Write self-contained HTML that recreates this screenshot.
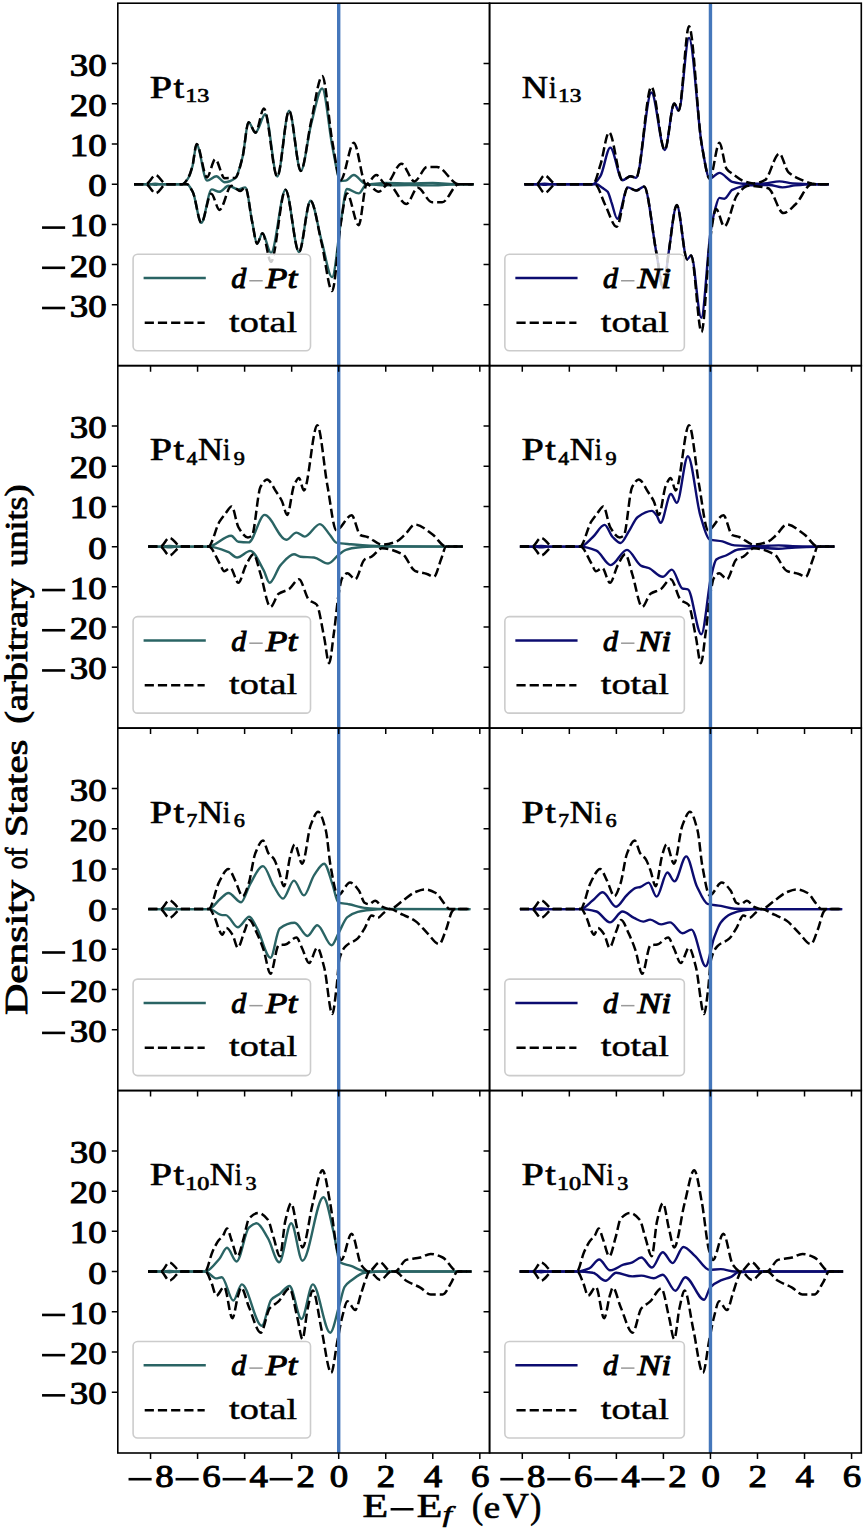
<!DOCTYPE html><html><head><meta charset="utf-8"><style>html,body{margin:0;padding:0;background:#fff;overflow:hidden;}svg{display:block;}text{font-family:"Liberation Serif",serif;stroke:#000;fill:#000;}.tk{stroke-width:1.0px;}.tx{stroke-width:0.45px;}.ti{stroke-width:0.65px;}.yl{stroke-width:0.85px;}.it{font-style:italic;stroke-width:1.0px;}</style></head><body>
<svg width="865" height="1530" viewBox="0 0 865 1530">
<clipPath id="cp00"><rect x="117.80" y="3.20" width="371.75" height="362.45"/></clipPath>
<clipPath id="cp01"><rect x="489.55" y="3.20" width="371.75" height="362.45"/></clipPath>
<clipPath id="cp10"><rect x="117.80" y="365.65" width="371.75" height="362.45"/></clipPath>
<clipPath id="cp11"><rect x="489.55" y="365.65" width="371.75" height="362.45"/></clipPath>
<clipPath id="cp20"><rect x="117.80" y="728.10" width="371.75" height="362.45"/></clipPath>
<clipPath id="cp21"><rect x="489.55" y="728.10" width="371.75" height="362.45"/></clipPath>
<clipPath id="cp30"><rect x="117.80" y="1090.55" width="371.75" height="362.45"/></clipPath>
<clipPath id="cp31"><rect x="489.55" y="1090.55" width="371.75" height="362.45"/></clipPath>
<g clip-path="url(#cp00)" fill="none"><path d="M134.1,184.2C139.6,184.2 145.1,184.2 150.5,184.2C152.1,184.2 153.7,183.6 155.2,183.6C156.8,183.6 158.4,184.2 159.9,184.2C167.4,184.2 174.8,184.2 182.3,184.2C184.3,184.2 186.2,181.2 188.2,178.2C189.6,176.0 191.0,171.6 192.4,166.5C193.8,161.5 195.2,144.8 196.6,144.8C200.1,144.8 203.5,180.6 207.0,180.6C210.1,180.6 213.3,176.2 216.4,176.2C219.1,176.2 221.9,182.2 224.6,182.2C228.2,182.2 231.7,180.7 235.2,178.2C237.6,176.5 240.1,166.6 242.5,157.3C244.5,149.4 246.6,122.3 248.6,122.3C250.9,122.3 253.2,132.7 255.4,132.7C258.7,132.7 262.0,114.3 265.3,114.3C269.3,114.3 273.3,176.6 277.3,176.6C281.2,176.6 285.2,110.6 289.1,110.6C293.0,110.6 296.9,170.9 300.8,170.9C304.3,170.9 307.7,136.9 311.2,123.9C314.9,110.0 318.6,88.5 322.2,88.5C325.7,88.5 329.1,131.6 332.6,148.0C335.3,160.7 337.9,181.0 340.6,181.0C342.3,181.0 344.0,180.8 345.8,180.6C348.4,180.2 351.1,175.0 353.8,175.0C357.8,175.0 361.9,184.2 366.0,184.2C372.6,184.2 379.2,183.0 385.7,183.0C393.6,183.0 401.4,183.4 409.3,183.4C417.1,183.4 424.9,183.0 432.8,183.0C441.4,183.0 450.0,184.2 458.7,184.2C463.7,184.2 468.7,184.2 473.7,184.2" stroke="#2a6464" stroke-width="2.4" stroke-linejoin="round"/><path d="M134.1,184.2C139.6,184.2 145.1,184.2 150.5,184.2C152.1,184.2 153.7,184.8 155.2,184.8C156.8,184.8 158.4,184.2 159.9,184.2C169.0,184.2 178.0,184.2 187.0,184.2C189.0,184.2 190.9,188.5 192.9,192.2C195.7,197.7 198.5,222.8 201.3,222.8C204.8,222.8 208.2,189.4 211.7,189.4C214.2,189.4 216.7,191.8 219.2,191.8C222.4,191.8 225.5,185.8 228.6,185.8C231.8,185.8 235.1,189.4 238.3,189.4C240.6,189.4 243.0,187.4 245.3,187.4C247.6,187.4 249.9,210.9 252.1,221.6C253.8,229.3 255.4,243.7 257.1,243.7C258.9,243.7 260.7,233.2 262.5,233.2C265.3,233.2 268.1,252.9 271.0,252.9C275.8,252.9 280.7,189.8 285.5,189.8C290.0,189.8 294.5,252.1 299.0,252.1C302.8,252.1 306.6,200.7 310.5,200.7C314.2,200.7 317.8,227.5 321.5,240.5C325.1,252.9 328.6,277.1 332.1,277.1C335.1,277.1 338.1,237.5 341.1,220.4C343.0,209.1 345.0,189.0 346.9,189.0C350.9,189.0 354.8,193.4 358.7,193.4C361.4,193.4 364.0,184.2 366.7,184.2C373.0,184.2 379.4,185.4 385.7,185.4C393.6,185.4 401.4,185.0 409.3,185.0C417.1,185.0 424.9,185.4 432.8,185.4C441.4,185.4 450.0,184.2 458.7,184.2C463.7,184.2 468.7,184.2 473.7,184.2" stroke="#2a6464" stroke-width="2.4" stroke-linejoin="round"/><path d="M134.1,184.2C138.0,184.2 141.9,184.2 145.8,184.2C149.1,184.2 152.4,175.2 155.7,175.2C159.2,175.2 162.8,184.2 166.3,184.2C171.6,184.2 177.0,184.2 182.3,184.2C184.3,184.2 186.2,180.9 188.2,177.8C189.6,175.5 191.0,171.2 192.4,166.1C193.8,161.0 195.2,144.0 196.6,144.0C200.1,144.0 203.5,177.4 207.0,177.4C209.7,177.4 212.5,159.3 215.2,159.3C218.4,159.3 221.5,178.2 224.6,178.2C228.2,178.2 231.7,178.0 235.2,177.8C237.6,177.6 240.1,166.5 242.5,157.3C244.5,149.5 246.6,122.3 248.6,122.3C250.9,122.3 253.2,132.7 255.4,132.7C258.3,132.7 261.1,108.6 263.9,108.6C268.4,108.6 272.8,176.6 277.3,176.6C281.2,176.6 285.2,110.6 289.1,110.6C293.0,110.6 296.9,170.9 300.8,170.9C304.3,170.9 307.7,136.3 311.2,121.1C314.9,104.8 318.6,76.1 322.2,76.1C325.7,76.1 329.1,124.7 332.6,143.2C335.3,157.5 337.9,180.2 340.6,180.2C345.0,180.2 349.4,142.8 353.8,142.8C357.8,142.8 361.9,184.2 366.0,184.2C369.4,184.2 372.9,175.0 376.3,175.0C379.5,175.0 382.6,184.2 385.7,184.2C391.0,184.2 396.2,163.7 401.5,163.7C405.8,163.7 410.1,181.4 414.4,181.4C418.7,181.4 422.9,166.9 427.1,166.9C430.4,166.9 433.7,166.9 437.0,166.9C444.2,166.9 451.4,184.2 458.7,184.2C463.7,184.2 468.7,184.2 473.7,184.2" stroke="#000" stroke-width="2.5" stroke-dasharray="9.2 4"/><path d="M134.1,184.2C138.0,184.2 141.9,184.2 145.8,184.2C149.1,184.2 152.4,193.2 155.7,193.2C159.2,193.2 162.8,184.2 166.3,184.2C173.2,184.2 180.1,184.2 187.0,184.2C189.0,184.2 190.9,188.5 192.9,192.2C195.7,197.7 198.5,222.8 201.3,222.8C204.6,222.8 207.9,193.8 211.2,193.8C214.0,193.8 216.7,209.9 219.5,209.9C223.5,209.9 227.5,185.8 231.4,185.8C234.4,185.8 237.4,191.0 240.4,191.0C242.0,191.0 243.7,187.4 245.3,187.4C247.6,187.4 249.9,210.9 252.1,221.6C253.8,229.3 255.4,243.7 257.1,243.7C258.9,243.7 260.7,233.2 262.5,233.2C265.3,233.2 268.1,261.8 271.0,261.8C275.8,261.8 280.7,189.8 285.5,189.8C290.0,189.8 294.5,252.1 299.0,252.1C302.8,252.1 306.6,200.7 310.5,200.7C314.2,200.7 317.8,227.2 321.5,242.5C325.1,257.1 328.6,291.1 332.1,291.1C335.1,291.1 338.1,239.0 341.1,221.6C343.0,210.2 345.0,193.4 346.9,193.4C350.9,193.4 354.8,225.2 358.7,225.2C361.4,225.2 364.0,184.2 366.7,184.2C370.7,184.2 374.7,191.8 378.7,191.8C381.8,191.8 385.0,184.2 388.1,184.2C394.2,184.2 400.3,203.9 406.4,203.9C410.2,203.9 414.0,187.8 417.7,187.8C422.5,187.8 427.3,202.3 432.1,202.3C435.4,202.3 438.8,202.3 442.2,202.3C447.7,202.3 453.2,184.2 458.7,184.2C463.7,184.2 468.7,184.2 473.7,184.2" stroke="#000" stroke-width="2.5" stroke-dasharray="9.2 4"/></g>
<g clip-path="url(#cp01)" fill="none"><path d="M524.4,184.2C529.2,184.2 534.0,184.2 538.8,184.2C540.7,184.2 542.7,183.6 544.6,183.6C546.6,183.6 548.6,184.2 550.5,184.2C564.6,184.2 578.7,184.2 592.9,184.2C595.4,184.2 597.9,180.0 600.4,176.2C603.7,171.1 607.0,147.6 610.3,147.6C614.3,147.6 618.4,180.2 622.5,180.2C625.2,180.2 627.8,176.2 630.5,176.2C632.4,176.2 634.2,177.8 636.1,177.8C641.2,177.8 646.3,92.5 651.4,92.5C655.9,92.5 660.4,150.0 664.8,150.0C668.0,150.0 671.1,103.4 674.2,103.4C675.7,103.4 677.2,110.6 678.7,110.6C682.1,110.6 685.6,37.9 689.0,37.9C693.3,37.9 697.5,121.0 701.7,144.4C704.4,159.1 707.1,178.6 709.7,178.6C713.0,178.6 716.2,172.9 719.4,172.9C723.7,172.9 728.0,180.7 732.3,181.8C736.8,182.9 741.3,183.8 745.7,183.8C752.0,183.8 758.3,183.6 764.5,183.4C769.5,183.2 774.4,181.4 779.4,181.4C783.8,181.4 788.3,183.1 792.8,183.4C799.0,183.8 805.3,184.2 811.6,184.2C817.3,184.2 823.0,184.2 828.8,184.2" stroke="#0c0c70" stroke-width="2.4" stroke-linejoin="round"/><path d="M524.4,184.2C529.2,184.2 534.0,184.2 538.8,184.2C540.7,184.2 542.7,184.8 544.6,184.8C546.6,184.8 548.6,184.2 550.5,184.2C565.8,184.2 581.1,184.2 596.4,184.2C598.3,184.2 600.3,186.5 602.3,187.8C604.1,189.0 605.9,189.7 607.7,191.8C608.9,193.4 610.2,198.6 611.4,202.1C613.4,207.5 615.4,218.8 617.3,218.8C620.8,218.8 624.4,187.4 627.9,187.4C630.6,187.4 633.4,190.6 636.1,190.6C638.8,190.6 641.5,186.6 644.1,186.6C648.2,186.6 652.3,231.6 656.4,252.9C658.7,265.2 661.1,288.7 663.4,288.7C665.1,288.7 666.9,263.9 668.6,252.9C671.3,235.5 674.1,205.1 676.8,205.1C680.3,205.1 683.7,259.4 687.2,259.4C688.5,259.4 689.8,255.4 691.2,255.4C694.5,255.4 697.9,317.7 701.3,317.7C704.3,317.7 707.4,252.0 710.5,232.4C711.9,223.4 713.3,215.8 714.7,210.7C716.3,205.1 717.8,197.9 719.4,197.9C721.0,197.9 722.7,198.7 724.3,198.7C727.0,198.7 729.7,191.1 732.3,189.8C737.7,187.3 743.1,185.6 748.6,185.4C755.5,185.1 762.4,185.0 769.2,185.0C773.6,185.0 778.0,187.4 782.4,187.4C786.7,187.4 790.9,185.8 795.1,185.4C800.7,184.8 806.3,184.2 811.8,184.2C817.5,184.2 823.1,184.2 828.8,184.2" stroke="#0c0c70" stroke-width="2.4" stroke-linejoin="round"/><path d="M524.4,184.2C528.4,184.2 532.4,184.2 536.4,184.2C539.1,184.2 541.9,175.4 544.6,175.4C548.4,175.4 552.2,184.2 555.9,184.2C568.2,184.2 580.5,184.2 592.9,184.2C595.4,184.2 597.9,172.5 600.4,164.9C603.3,156.1 606.2,132.3 609.1,132.3C613.5,132.3 618.0,180.2 622.5,180.2C625.2,180.2 627.8,176.2 630.5,176.2C632.4,176.2 634.2,177.8 636.1,177.8C641.2,177.8 646.3,86.9 651.4,86.9C655.9,86.9 660.4,150.0 664.8,150.0C668.0,150.0 671.1,103.4 674.2,103.4C675.7,103.4 677.2,110.6 678.7,110.6C682.1,110.6 685.6,26.2 689.0,26.2C693.3,26.2 697.5,120.3 701.7,144.4C704.4,159.6 707.1,178.6 709.7,178.6C713.0,178.6 716.2,142.8 719.4,142.8C721.8,142.8 724.2,165.7 726.7,168.9C728.6,171.5 730.4,172.4 732.3,173.7C736.6,176.9 740.9,180.6 745.3,181.8C748.0,182.6 750.7,183.4 753.5,183.4C757.3,183.4 761.0,182.0 764.8,180.2C769.6,177.9 774.5,153.6 779.4,153.6C782.3,153.6 785.3,169.2 788.3,172.1C791.2,175.0 794.1,176.3 797.0,177.8C801.9,180.2 806.9,182.3 811.8,183.4C813.3,183.7 814.8,184.2 816.3,184.2C820.4,184.2 824.6,184.2 828.8,184.2" stroke="#000" stroke-width="2.5" stroke-dasharray="9.2 4"/><path d="M524.4,184.2C528.4,184.2 532.4,184.2 536.4,184.2C539.1,184.2 541.9,193.0 544.6,193.0C548.4,193.0 552.2,184.2 555.9,184.2C568.9,184.2 581.8,184.2 594.7,184.2C598.3,184.2 601.8,198.2 605.3,205.1C609.1,212.4 612.8,226.8 616.6,226.8C620.4,226.8 624.1,187.4 627.9,187.4C630.6,187.4 633.4,190.6 636.1,190.6C638.8,190.6 641.5,186.6 644.1,186.6C648.2,186.6 652.3,231.6 656.4,252.9C658.7,265.2 661.1,288.7 663.4,288.7C665.1,288.7 666.9,263.9 668.6,252.9C671.3,235.5 674.1,205.1 676.8,205.1C680.3,205.1 683.7,259.4 687.2,259.4C688.5,259.4 689.8,255.4 691.2,255.4C694.6,255.4 698.1,332.1 701.5,332.1C704.5,332.1 707.5,255.8 710.5,236.5C712.3,224.3 714.2,209.1 716.1,209.1C718.8,209.1 721.6,226.4 724.3,226.4C728.6,226.4 733.0,199.7 737.3,194.7C741.0,190.2 744.8,185.8 748.6,185.8C755.1,185.8 761.6,186.7 768.1,188.2C773.2,189.4 778.3,213.1 783.4,213.1C787.4,213.1 791.5,208.0 795.6,204.3C801.0,199.4 806.4,184.2 811.8,184.2C817.5,184.2 823.1,184.2 828.8,184.2" stroke="#000" stroke-width="2.5" stroke-dasharray="9.2 4"/></g>
<g clip-path="url(#cp10)" fill="none"><path d="M148.2,546.6C152.9,546.6 157.6,546.6 162.3,546.6C164.7,546.6 167.0,546.0 169.4,546.0C171.7,546.0 174.1,546.6 176.4,546.6C187.0,546.6 197.6,546.6 208.2,546.6C215.8,546.6 223.5,535.8 231.2,535.8C233.6,535.8 235.9,541.6 238.3,541.8C241.7,542.2 245.2,542.4 248.6,542.4C253.9,542.4 259.3,514.9 264.6,514.9C271.8,514.9 279.0,539.8 286.3,539.8C289.6,539.8 293.0,532.6 296.4,532.6C299.2,532.6 302.0,536.6 304.8,536.6C309.8,536.6 314.9,524.1 319.9,524.1C323.3,524.1 326.6,531.2 330.0,535.0C332.1,537.4 334.2,542.2 336.3,542.6C341.2,543.7 346.1,543.8 350.9,544.2C361.0,545.1 371.0,546.1 381.0,546.2C408.2,546.5 435.4,546.6 462.7,546.6" stroke="#2a6464" stroke-width="2.4" stroke-linejoin="round"/><path d="M148.2,546.6C152.9,546.6 157.6,546.6 162.3,546.6C164.7,546.6 167.0,547.3 169.4,547.3C171.7,547.3 174.1,546.6 176.4,546.6C187.2,546.6 197.9,546.6 208.6,546.6C215.1,546.6 221.6,549.3 228.2,551.9C231.1,553.1 234.1,557.5 237.1,557.5C241.5,557.5 245.9,550.9 250.3,550.9C254.7,550.9 259.2,562.5 263.7,570.4C265.6,573.8 267.6,582.8 269.6,582.8C273.2,582.8 276.9,569.1 280.6,565.1C285.1,560.3 289.5,554.3 294.0,554.3C296.2,554.3 298.4,556.5 300.6,556.7C305.1,557.2 309.5,557.0 314.0,557.5C318.7,558.0 323.4,563.5 328.1,563.5C331.6,563.5 335.2,557.3 338.7,554.7C341.1,552.9 343.4,550.6 345.8,549.9C349.7,548.6 353.6,547.8 357.5,547.5C363.0,547.0 368.5,546.6 374.0,546.6C403.5,546.6 433.1,546.6 462.7,546.6" stroke="#2a6464" stroke-width="2.4" stroke-linejoin="round"/><path d="M148.2,546.6C152.3,546.6 156.3,546.6 160.4,546.6C163.4,546.6 166.4,537.8 169.4,537.8C173.3,537.8 177.2,546.6 181.1,546.6C190.1,546.6 199.1,546.6 208.2,546.6C211.9,546.6 215.7,527.9 219.5,521.7C221.3,518.7 223.2,516.4 225.1,514.1C227.3,511.3 229.5,506.4 231.7,506.4C234.0,506.4 236.2,523.7 238.5,527.4C241.6,532.5 244.8,537.4 247.9,537.4C249.2,537.4 250.6,536.7 251.9,535.8C254.7,533.9 257.6,492.5 260.4,487.2C262.6,483.0 264.8,479.5 267.0,479.5C270.1,479.5 273.2,487.3 276.4,492.0C278.3,494.8 280.1,497.4 282.0,501.2C283.7,504.7 285.5,514.9 287.2,514.9C289.5,514.9 291.7,490.6 294.0,485.5C295.7,481.9 297.3,477.9 299.0,477.9C300.6,477.9 302.2,490.4 303.9,490.4C308.4,490.4 312.8,425.2 317.3,425.2C320.7,425.2 324.0,467.3 327.4,485.5C330.4,501.7 333.4,530.2 336.3,530.2C341.4,530.2 346.5,515.3 351.6,515.3C354.5,515.3 357.4,533.6 360.3,535.0C362.7,536.2 365.0,536.2 367.4,537.0C372.3,538.7 377.1,544.6 382.0,544.6C386.6,544.6 391.2,543.4 395.9,541.8C398.8,540.8 401.7,537.5 404.6,535.0C408.0,532.0 411.5,524.5 414.9,524.5C420.7,524.5 426.5,530.2 432.3,534.2C436.9,537.4 441.6,546.6 446.2,546.6C451.7,546.6 457.2,546.6 462.7,546.6" stroke="#000" stroke-width="2.5" stroke-dasharray="9.2 4"/><path d="M148.2,546.6C152.3,546.6 156.3,546.6 160.4,546.6C163.4,546.6 166.4,555.5 169.4,555.5C173.3,555.5 177.2,546.6 181.1,546.6C190.3,546.6 199.5,546.6 208.6,546.6C212.4,546.6 216.2,557.8 219.9,563.9C221.3,566.2 222.7,571.2 224.2,571.2C226.3,571.2 228.4,568.0 230.5,568.0C233.1,568.0 235.7,582.8 238.3,582.8C240.9,582.8 243.4,569.7 246.0,565.1C248.5,560.7 251.0,554.3 253.6,554.3C255.8,554.3 258.1,566.7 260.4,573.6C263.7,583.8 267.1,606.9 270.5,606.9C273.2,606.9 276.0,595.6 278.7,593.7C282.1,591.3 285.5,591.3 288.8,589.3C292.2,587.2 295.6,579.2 299.0,579.2C302.3,579.2 305.7,597.1 309.1,600.1C311.6,602.4 314.1,601.9 316.6,604.5C319.1,607.1 321.6,625.1 324.1,637.1C325.8,645.0 327.4,663.2 329.1,663.2C330.7,663.2 332.3,643.9 334.0,632.3C335.7,620.1 337.4,599.8 339.2,590.5C340.1,585.4 341.1,580.0 342.0,578.4C343.8,575.4 345.6,573.2 347.4,573.2C350.0,573.2 352.6,579.2 355.2,579.2C358.3,579.2 361.4,561.5 364.6,559.5C366.9,558.0 369.3,557.9 371.6,556.7C375.1,554.9 378.5,548.3 382.0,548.3C388.9,548.3 395.8,550.8 402.7,554.3C406.8,556.4 410.8,569.0 414.9,570.8C419.0,572.6 423.1,572.6 427.1,574.0C429.4,574.7 431.7,576.8 434.0,576.8C436.3,576.8 438.7,565.3 441.0,559.5C442.7,555.3 444.5,546.6 446.2,546.6C451.7,546.6 457.2,546.6 462.7,546.6" stroke="#000" stroke-width="2.5" stroke-dasharray="9.2 4"/></g>
<g clip-path="url(#cp11)" fill="none"><path d="M519.9,546.6C524.6,546.6 529.3,546.6 534.1,546.6C536.4,546.6 538.8,546.0 541.1,546.0C543.5,546.0 545.8,546.6 548.2,546.6C558.9,546.6 569.6,546.6 580.4,546.6C584.5,546.6 588.7,540.7 592.9,537.0C596.8,533.5 600.7,524.9 604.6,524.9C607.3,524.9 609.9,534.3 612.6,537.0C615.3,539.7 617.9,543.0 620.6,543.0C623.3,543.0 626.1,535.5 628.8,531.4C631.8,526.9 634.8,519.0 637.8,516.9C642.5,513.6 647.2,510.9 651.9,510.9C653.5,510.9 655.0,513.3 656.6,515.3C657.9,517.0 659.3,522.9 660.6,522.9C664.0,522.9 667.5,494.0 670.9,494.0C672.9,494.0 674.9,502.8 676.8,502.8C680.5,502.8 684.2,456.2 687.9,456.2C692.0,456.2 696.2,501.4 700.3,515.3C703.4,525.5 706.5,538.5 709.5,539.4C713.8,540.7 718.1,540.5 722.4,541.4C726.5,542.3 730.6,545.2 734.7,545.4C742.3,546.0 749.9,546.2 757.5,546.2C764.5,546.2 771.6,545.4 778.7,545.4C783.4,545.4 788.1,546.2 792.8,546.2C806.6,546.5 820.5,546.6 834.4,546.6" stroke="#0c0c70" stroke-width="2.4" stroke-linejoin="round"/><path d="M519.9,546.6C524.6,546.6 529.3,546.6 534.1,546.6C536.4,546.6 538.8,547.3 541.1,547.3C543.5,547.3 545.8,546.6 548.2,546.6C558.9,546.6 569.6,546.6 580.4,546.6C585.7,546.6 591.0,548.5 596.4,550.7C601.2,552.6 605.9,565.1 610.7,565.1C616.1,565.1 621.5,549.9 627.0,549.9C631.7,549.9 636.5,564.0 641.3,565.9C643.7,567.0 646.2,567.1 648.6,568.0C653.3,569.7 658.0,576.8 662.7,576.8C665.8,576.8 668.8,569.6 671.9,569.6C675.4,569.6 678.9,587.6 682.5,588.5C684.3,588.9 686.1,588.8 687.9,589.3C692.3,590.4 696.8,634.3 701.3,634.3C704.6,634.3 707.9,589.2 711.2,576.0C712.9,569.1 714.6,560.9 716.3,559.5C719.5,556.9 722.8,556.9 726.0,555.5C730.1,553.7 734.1,550.1 738.2,549.5C744.6,548.5 751.1,547.9 757.5,547.9C764.5,547.9 771.6,548.7 778.7,548.7C784.1,548.7 789.6,547.6 795.1,547.5C808.2,547.0 821.3,546.6 834.4,546.6" stroke="#0c0c70" stroke-width="2.4" stroke-linejoin="round"/><path d="M519.9,546.6C524.0,546.6 528.1,546.6 532.2,546.6C535.1,546.6 538.1,537.8 541.1,537.8C545.0,537.8 548.9,546.6 552.9,546.6C561.9,546.6 570.9,546.6 579.9,546.6C583.7,546.6 587.4,527.9 591.2,521.7C593.1,518.7 595.0,516.4 596.8,514.1C599.0,511.3 601.2,506.4 603.4,506.4C605.7,506.4 608.0,523.7 610.3,527.4C613.4,532.5 616.5,537.4 619.7,537.4C621.0,537.4 622.3,536.7 623.7,535.8C626.5,533.9 629.3,492.5 632.1,487.2C634.3,483.0 636.5,479.5 638.7,479.5C641.9,479.5 645.0,487.3 648.1,492.0C650.0,494.8 651.9,497.4 653.8,501.2C655.5,504.7 657.2,514.9 658.9,514.9C661.2,514.9 663.5,490.6 665.8,485.5C667.4,481.9 669.1,477.9 670.7,477.9C672.3,477.9 674.0,490.4 675.6,490.4C680.1,490.4 684.6,425.2 689.0,425.2C692.4,425.2 695.8,467.3 699.2,485.5C702.1,501.7 705.1,530.2 708.1,530.2C713.2,530.2 718.3,515.3 723.4,515.3C726.3,515.3 729.2,533.6 732.1,535.0C734.4,536.2 736.8,536.2 739.1,537.0C744.0,538.7 748.9,544.6 753.7,544.6C758.4,544.6 763.0,543.4 767.6,541.8C770.5,540.8 773.4,537.5 776.3,535.0C779.8,532.0 783.2,524.5 786.7,524.5C792.5,524.5 798.3,530.2 804.1,534.2C808.7,537.4 813.3,546.6 817.9,546.6C823.4,546.6 828.9,546.6 834.4,546.6" stroke="#000" stroke-width="2.5" stroke-dasharray="9.2 4"/><path d="M519.9,546.6C524.0,546.6 528.1,546.6 532.2,546.6C535.1,546.6 538.1,555.5 541.1,555.5C545.0,555.5 548.9,546.6 552.9,546.6C562.0,546.6 571.2,546.6 580.4,546.6C584.1,546.6 587.9,557.8 591.7,563.9C593.1,566.2 594.5,571.2 595.9,571.2C598.0,571.2 600.1,568.0 602.3,568.0C604.8,568.0 607.4,582.8 610.0,582.8C612.6,582.8 615.2,569.7 617.8,565.1C620.3,560.7 622.8,554.3 625.3,554.3C627.6,554.3 629.9,566.7 632.1,573.6C635.5,583.8 638.9,606.9 642.2,606.9C645.0,606.9 647.7,595.6 650.5,593.7C653.8,591.3 657.2,591.3 660.6,589.3C664.0,587.2 667.3,579.2 670.7,579.2C674.1,579.2 677.4,597.1 680.8,600.1C683.3,602.4 685.8,601.9 688.3,604.5C690.9,607.1 693.4,625.1 695.9,637.1C697.5,645.0 699.2,663.2 700.8,663.2C702.5,663.2 704.1,643.9 705.7,632.3C707.5,620.1 709.2,599.8 710.9,590.5C711.9,585.4 712.8,580.0 713.7,578.4C715.5,575.4 717.3,573.2 719.2,573.2C721.7,573.2 724.3,579.2 726.9,579.2C730.1,579.2 733.2,561.5 736.3,559.5C738.7,558.0 741.0,557.9 743.4,556.7C746.8,554.9 750.3,548.3 753.7,548.3C760.6,548.3 767.5,550.8 774.4,554.3C778.5,556.4 782.6,569.0 786.7,570.8C790.7,572.6 794.8,572.6 798.9,574.0C801.2,574.7 803.4,576.8 805.7,576.8C808.1,576.8 810.4,565.3 812.8,559.5C814.5,555.3 816.2,546.6 817.9,546.6C823.4,546.6 828.9,546.6 834.4,546.6" stroke="#000" stroke-width="2.5" stroke-dasharray="9.2 4"/></g>
<g clip-path="url(#cp20)" fill="none"><path d="M148.2,909.1C152.9,909.1 157.6,909.1 162.3,909.1C164.7,909.1 167.0,908.5 169.4,908.5C171.7,908.5 174.1,909.1 176.4,909.1C187.2,909.1 197.9,909.1 208.6,909.1C212.5,909.1 216.3,902.1 220.2,899.0C222.9,896.9 225.6,893.0 228.4,893.0C232.6,893.0 236.9,902.3 241.1,902.3C244.1,902.3 247.2,888.9 250.3,883.8C254.5,876.7 258.7,866.1 263.0,866.1C266.6,866.1 270.2,880.5 273.8,886.2C276.8,891.0 279.9,898.6 283.0,898.6C286.6,898.6 290.3,880.6 294.0,880.6C297.3,880.6 300.6,895.4 303.9,895.4C307.3,895.4 310.6,880.3 314.0,875.3C317.4,870.4 320.7,863.7 324.1,863.7C326.9,863.7 329.6,876.2 332.3,883.8C334.3,889.2 336.3,901.5 338.2,902.3C341.8,903.7 345.4,903.5 349.0,904.3C354.2,905.3 359.4,907.4 364.6,907.9C370.1,908.4 375.5,908.9 381.0,908.9C410.8,909.1 440.6,909.1 470.4,909.1" stroke="#2a6464" stroke-width="2.4" stroke-linejoin="round"/><path d="M148.2,909.1C152.9,909.1 157.6,909.1 162.3,909.1C164.7,909.1 167.0,909.7 169.4,909.7C171.7,909.7 174.1,909.1 176.4,909.1C187.4,909.1 198.4,909.1 209.3,909.1C213.7,909.1 218.0,915.1 222.3,915.1C223.5,915.1 224.6,915.1 225.8,915.1C229.8,915.1 233.8,927.2 237.8,927.2C241.6,927.2 245.5,916.7 249.3,916.7C251.9,916.7 254.5,923.9 257.1,928.4C261.6,936.2 266.0,957.7 270.5,957.7C273.5,957.7 276.6,930.6 279.7,928.4C284.7,924.8 289.7,922.8 294.7,922.8C299.0,922.8 303.2,936.0 307.4,936.0C310.7,936.0 314.0,925.2 317.3,925.2C322.1,925.2 326.9,945.3 331.6,945.3C334.0,945.3 336.3,937.0 338.7,932.8C341.6,927.6 344.5,919.5 347.4,917.1C350.9,914.4 354.3,912.8 357.8,911.9C360.7,911.1 363.6,910.6 366.5,910.3C372.9,909.7 379.3,909.1 385.7,909.1C414.0,909.1 442.2,909.1 470.4,909.1" stroke="#2a6464" stroke-width="2.4" stroke-linejoin="round"/><path d="M148.2,909.1C152.3,909.1 156.3,909.1 160.4,909.1C163.4,909.1 166.4,900.3 169.4,900.3C173.3,900.3 177.2,909.1 181.1,909.1C190.3,909.1 199.5,909.1 208.6,909.1C212.2,909.1 215.7,888.1 219.2,881.8C222.3,876.2 225.3,868.9 228.4,868.9C230.7,868.9 232.9,876.3 235.2,880.6C237.7,885.3 240.2,896.2 242.7,896.2C244.7,896.2 246.7,889.4 248.6,883.8C250.8,877.5 253.0,859.2 255.2,853.6C257.8,847.1 260.4,840.4 263.0,840.4C264.8,840.4 266.7,851.0 268.6,853.6C270.3,856.0 272.1,856.4 273.8,858.8C275.4,861.2 277.1,866.1 278.7,870.5C280.4,875.1 282.2,886.2 283.9,886.2C286.1,886.2 288.3,862.4 290.5,855.2C291.9,850.6 293.3,844.4 294.7,844.4C297.2,844.4 299.7,863.7 302.2,863.7C305.1,863.7 307.9,832.2 310.7,825.1C313.2,818.8 315.7,811.8 318.2,811.8C320.7,811.8 323.3,820.7 325.8,830.3C327.4,836.6 329.1,858.3 330.7,866.9C333.1,879.6 335.6,895.4 338.0,895.4C342.0,895.4 346.0,882.6 350.0,882.6C352.9,882.6 355.8,886.5 358.7,890.2C360.7,892.7 362.6,901.5 364.6,902.7C366.1,903.6 367.6,904.3 369.0,904.3C371.1,904.3 373.1,900.7 375.2,900.7C377.4,900.7 379.7,905.6 382.0,906.7C384.6,907.9 387.2,909.1 389.7,909.1C394.1,909.1 398.4,903.6 402.7,900.7C406.8,897.9 410.8,893.9 414.9,892.2C418.1,890.9 421.3,889.4 424.5,889.4C428.3,889.4 432.1,891.0 435.8,893.0C438.7,894.5 441.5,900.3 444.3,903.5C446.1,905.5 447.9,909.1 449.7,909.1C456.6,909.1 463.5,909.1 470.4,909.1" stroke="#000" stroke-width="2.5" stroke-dasharray="9.2 4"/><path d="M148.2,909.1C152.3,909.1 156.3,909.1 160.4,909.1C163.4,909.1 166.4,917.9 169.4,917.9C173.3,917.9 177.2,909.1 181.1,909.1C190.5,909.1 199.9,909.1 209.3,909.1C211.1,909.1 212.9,913.9 214.7,917.5C216.2,920.5 217.7,927.1 219.2,930.0C220.2,932.0 221.3,934.8 222.3,934.8C223.6,934.8 224.9,928.0 226.3,928.0C228.4,928.0 230.5,931.6 232.6,934.8C234.3,937.5 236.1,947.7 237.8,947.7C240.0,947.7 242.2,936.9 244.4,931.6C246.0,927.7 247.7,920.0 249.3,920.0C251.9,920.0 254.5,928.2 257.1,933.6C259.3,938.2 261.5,943.7 263.7,950.1C265.9,956.7 268.2,973.8 270.5,973.8C273.2,973.8 276.0,945.9 278.7,945.3C281.0,944.8 283.3,944.9 285.5,944.5C289.2,943.8 292.8,937.6 296.4,937.6C298.3,937.6 300.3,944.6 302.2,948.5C304.5,953.0 306.8,963.0 309.1,963.0C311.8,963.0 314.6,947.7 317.3,947.7C319.6,947.7 321.8,958.5 324.1,967.0C326.9,977.3 329.6,1014.0 332.3,1014.0C333.7,1014.0 335.0,999.7 336.3,989.5C337.4,981.7 338.4,962.7 339.4,958.9C341.5,951.2 343.6,948.3 345.8,946.1C349.8,942.0 353.8,942.1 357.8,938.4C360.0,936.3 362.3,932.1 364.6,928.4C366.9,924.6 369.3,915.5 371.6,915.5C373.7,915.5 375.7,917.9 377.7,917.9C379.8,917.9 381.8,914.2 383.9,912.7C385.8,911.3 387.8,909.1 389.7,909.1C394.1,909.1 398.4,912.7 402.7,914.7C406.8,916.6 410.8,918.1 414.9,920.8C419.0,923.4 423.1,928.9 427.1,932.8C431.1,936.7 435.1,944.1 439.1,944.1C441.5,944.1 443.8,935.0 446.2,929.2C448.2,924.2 450.3,913.3 452.3,911.1C453.2,910.1 454.2,909.1 455.1,909.1C460.2,909.1 465.3,909.1 470.4,909.1" stroke="#000" stroke-width="2.5" stroke-dasharray="9.2 4"/></g>
<g clip-path="url(#cp21)" fill="none"><path d="M519.9,909.1C524.6,909.1 529.3,909.1 534.1,909.1C536.4,909.1 538.8,908.5 541.1,908.5C543.5,908.5 545.8,909.1 548.2,909.1C558.9,909.1 569.6,909.1 580.4,909.1C584.5,909.1 588.7,903.4 592.9,900.3C596.1,897.8 599.4,892.2 602.7,892.2C607.2,892.2 611.7,906.7 616.1,906.7C619.7,906.7 623.3,898.3 627.0,895.0C629.9,892.3 632.9,888.6 635.9,887.8C637.4,887.4 638.9,887.4 640.4,887.0C643.1,886.3 645.8,882.6 648.6,882.6C651.3,882.6 653.9,896.6 656.6,896.6C660.2,896.6 663.8,872.5 667.4,872.5C669.8,872.5 672.1,881.4 674.5,881.4C678.4,881.4 682.3,856.4 686.2,856.4C689.8,856.4 693.3,878.9 696.8,886.2C700.4,893.6 704.0,902.8 707.6,903.9C712.0,905.1 716.4,905.1 720.8,905.9C725.4,906.7 730.1,908.5 734.7,908.7C742.3,909.0 749.9,909.1 757.5,909.1C785.7,909.1 813.9,909.1 842.2,909.1" stroke="#0c0c70" stroke-width="2.4" stroke-linejoin="round"/><path d="M519.9,909.1C524.6,909.1 529.3,909.1 534.1,909.1C536.4,909.1 538.8,909.7 541.1,909.7C543.5,909.7 545.8,909.1 548.2,909.1C559.1,909.1 570.1,909.1 581.1,909.1C586.2,909.1 591.3,910.2 596.4,911.5C600.9,912.7 605.5,922.4 610.0,922.4C614.2,922.4 618.3,911.5 622.5,911.5C626.3,911.5 630.2,916.2 634.0,917.9C637.1,919.3 640.1,921.6 643.2,921.6C645.5,921.6 647.9,919.6 650.2,919.6C653.8,919.6 657.5,924.4 661.1,924.4C664.0,924.4 667.0,922.4 670.0,922.4C674.2,922.4 678.3,933.2 682.5,933.2C685.4,933.2 688.4,929.6 691.4,929.6C696.2,929.6 701.0,966.2 705.7,966.2C708.5,966.2 711.2,945.5 714.0,938.0C716.3,931.8 718.5,925.2 720.8,922.4C724.2,918.1 727.7,915.4 731.1,913.9C735.2,912.1 739.3,910.9 743.4,910.3C748.1,909.7 752.8,909.1 757.5,909.1C785.7,909.1 813.9,909.1 842.2,909.1" stroke="#0c0c70" stroke-width="2.4" stroke-linejoin="round"/><path d="M519.9,909.1C524.0,909.1 528.1,909.1 532.2,909.1C535.1,909.1 538.1,900.3 541.1,900.3C545.0,900.3 548.9,909.1 552.9,909.1C562.0,909.1 571.2,909.1 580.4,909.1C583.9,909.1 587.4,888.1 591.0,881.8C594.0,876.2 597.1,868.9 600.1,868.9C602.4,868.9 604.7,876.3 607.0,880.6C609.5,885.3 612.0,896.2 614.5,896.2C616.4,896.2 618.4,889.4 620.4,883.8C622.6,877.5 624.8,859.2 627.0,853.6C629.5,847.1 632.1,840.4 634.7,840.4C636.6,840.4 638.5,851.0 640.4,853.6C642.1,856.0 643.8,856.4 645.5,858.8C647.2,861.2 648.8,866.1 650.5,870.5C652.2,875.1 653.9,886.2 655.6,886.2C657.8,886.2 660.0,862.4 662.2,855.2C663.6,850.6 665.1,844.4 666.5,844.4C669.0,844.4 671.5,863.7 674.0,863.7C676.8,863.7 679.6,832.2 682.5,825.1C685.0,818.8 687.5,811.8 690.0,811.8C692.5,811.8 695.0,820.7 697.5,830.3C699.2,836.6 700.8,858.3 702.5,866.9C704.9,879.6 707.3,895.4 709.7,895.4C713.7,895.4 717.7,882.6 721.7,882.6C724.6,882.6 727.5,886.5 730.4,890.2C732.4,892.7 734.4,901.5 736.3,902.7C737.8,903.6 739.3,904.3 740.8,904.3C742.8,904.3 744.9,900.7 746.9,900.7C749.2,900.7 751.5,905.6 753.7,906.7C756.3,907.9 758.9,909.1 761.5,909.1C765.8,909.1 770.1,903.6 774.4,900.7C778.5,897.9 782.6,893.9 786.7,892.2C789.9,890.9 793.1,889.4 796.3,889.4C800.1,889.4 803.8,891.0 807.6,893.0C810.4,894.5 813.2,900.3 816.1,903.5C817.9,905.5 819.7,909.1 821.5,909.1C828.4,909.1 835.3,909.1 842.2,909.1" stroke="#000" stroke-width="2.5" stroke-dasharray="9.2 4"/><path d="M519.9,909.1C524.0,909.1 528.1,909.1 532.2,909.1C535.1,909.1 538.1,917.9 541.1,917.9C545.0,917.9 548.9,909.1 552.9,909.1C562.3,909.1 571.7,909.1 581.1,909.1C582.9,909.1 584.7,913.9 586.5,917.5C588.0,920.5 589.5,927.1 591.0,930.0C592.0,932.0 593.0,934.8 594.0,934.8C595.4,934.8 596.7,928.0 598.0,928.0C600.1,928.0 602.3,931.6 604.4,934.8C606.1,937.5 607.8,947.7 609.5,947.7C611.7,947.7 613.9,936.9 616.1,931.6C617.8,927.7 619.4,920.0 621.1,920.0C623.7,920.0 626.2,928.2 628.8,933.6C631.0,938.2 633.2,943.7 635.4,950.1C637.7,956.7 640.0,973.8 642.2,973.8C645.0,973.8 647.7,945.9 650.5,945.3C652.7,944.8 655.0,944.9 657.3,944.5C660.9,943.8 664.5,937.6 668.1,937.6C670.1,937.6 672.0,944.6 674.0,948.5C676.3,953.0 678.5,963.0 680.8,963.0C683.6,963.0 686.3,947.7 689.0,947.7C691.3,947.7 693.6,958.5 695.9,967.0C698.6,977.3 701.4,1014.0 704.1,1014.0C705.4,1014.0 706.8,999.7 708.1,989.5C709.1,981.7 710.1,962.7 711.2,958.9C713.3,951.2 715.4,948.3 717.5,946.1C721.5,942.0 725.5,942.1 729.5,938.4C731.8,936.3 734.0,932.1 736.3,928.4C738.7,924.6 741.0,915.5 743.4,915.5C745.4,915.5 747.5,917.9 749.5,917.9C751.5,917.9 753.6,914.2 755.6,912.7C757.6,911.3 759.5,909.1 761.5,909.1C765.8,909.1 770.1,912.7 774.4,914.7C778.5,916.6 782.6,918.1 786.7,920.8C790.7,923.4 794.8,928.9 798.9,932.8C802.9,936.7 806.9,944.1 810.9,944.1C813.2,944.1 815.6,935.0 817.9,929.2C820.0,924.2 822.0,913.3 824.1,911.1C825.0,910.1 825.9,909.1 826.9,909.1C832.0,909.1 837.1,909.1 842.2,909.1" stroke="#000" stroke-width="2.5" stroke-dasharray="9.2 4"/></g>
<g clip-path="url(#cp30)" fill="none"><path d="M148.0,1271.5C152.7,1271.5 157.5,1271.5 162.3,1271.5C164.7,1271.5 167.0,1270.9 169.4,1270.9C171.7,1270.9 174.1,1271.5 176.4,1271.5C186.0,1271.5 195.5,1271.5 205.1,1271.5C209.9,1271.5 214.7,1264.1 219.5,1258.7C222.0,1255.8 224.5,1247.8 227.0,1247.8C230.2,1247.8 233.4,1261.5 236.6,1261.5C240.7,1261.5 244.8,1231.4 248.9,1227.7C251.4,1225.4 254.0,1223.3 256.6,1223.3C260.4,1223.3 264.1,1232.1 267.9,1238.2C271.7,1244.3 275.4,1262.3 279.2,1262.3C283.2,1262.3 287.2,1223.3 291.2,1223.3C295.0,1223.3 298.7,1260.7 302.5,1260.7C309.5,1260.7 316.4,1197.2 323.4,1197.2C326.9,1197.2 330.3,1218.9 333.8,1233.0C335.8,1241.3 337.8,1260.9 339.9,1262.3C343.6,1264.8 347.2,1264.6 350.9,1265.9C355.5,1267.5 360.0,1271.0 364.6,1271.1C371.6,1271.4 378.7,1271.5 385.7,1271.5C414.3,1271.5 442.8,1271.5 471.4,1271.5" stroke="#2a6464" stroke-width="2.4" stroke-linejoin="round"/><path d="M148.0,1271.5C152.7,1271.5 157.5,1271.5 162.3,1271.5C164.7,1271.5 167.0,1272.2 169.4,1272.2C171.7,1272.2 174.1,1271.5 176.4,1271.5C186.1,1271.5 195.9,1271.5 205.6,1271.5C209.0,1271.5 212.5,1278.4 215.9,1278.4C217.9,1278.4 219.8,1277.2 221.8,1277.2C225.6,1277.2 229.5,1300.5 233.3,1300.5C236.2,1300.5 239.0,1284.4 241.8,1284.4C248.5,1284.4 255.1,1325.8 261.8,1325.8C264.9,1325.8 268.1,1303.1 271.2,1299.7C274.1,1296.5 277.0,1295.8 279.9,1293.7C283.1,1291.3 286.3,1286.0 289.5,1286.0C293.5,1286.0 297.5,1319.0 301.5,1319.0C305.3,1319.0 309.1,1284.4 312.8,1284.4C318.6,1284.4 324.4,1332.7 330.2,1332.7C333.2,1332.7 336.2,1315.4 339.2,1305.7C341.0,1299.9 342.8,1289.6 344.6,1286.8C346.7,1283.6 348.8,1282.4 350.9,1280.8C355.5,1277.4 360.0,1273.3 364.6,1272.8C371.6,1272.0 378.7,1271.5 385.7,1271.5C414.3,1271.5 442.8,1271.5 471.4,1271.5" stroke="#2a6464" stroke-width="2.4" stroke-linejoin="round"/><path d="M148.0,1271.5C152.3,1271.5 156.6,1271.5 160.9,1271.5C163.7,1271.5 166.5,1262.5 169.4,1262.5C173.3,1262.5 177.2,1271.5 181.1,1271.5C189.1,1271.5 197.1,1271.5 205.1,1271.5C207.5,1271.5 210.0,1257.1 212.4,1251.9C214.4,1247.4 216.5,1243.3 218.5,1240.6C219.9,1238.7 221.3,1238.0 222.7,1236.2C224.2,1234.3 225.6,1228.5 227.0,1228.5C228.5,1228.5 230.0,1235.9 231.4,1239.8C233.5,1245.1 235.5,1256.3 237.6,1256.3C239.6,1256.3 241.6,1244.9 243.7,1238.2C245.4,1232.5 247.1,1220.9 248.9,1218.9C252.0,1215.2 255.1,1212.9 258.3,1212.9C261.5,1212.9 264.7,1215.8 267.9,1219.7C269.9,1222.1 271.8,1232.2 273.8,1238.2C275.8,1244.4 277.9,1256.3 279.9,1256.3C281.7,1256.3 283.5,1228.4 285.3,1220.9C287.3,1212.8 289.2,1203.2 291.2,1203.2C293.2,1203.2 295.3,1221.5 297.3,1229.3C299.0,1236.0 300.8,1247.4 302.5,1247.4C305.9,1247.4 309.4,1216.3 312.8,1203.2C316.0,1191.0 319.3,1170.2 322.5,1170.2C325.1,1170.2 327.6,1189.7 330.2,1203.2C332.6,1215.5 334.9,1242.3 337.3,1250.2C338.6,1254.8 340.0,1259.9 341.3,1259.9C344.7,1259.9 348.2,1233.8 351.6,1233.8C354.9,1233.8 358.1,1260.9 361.3,1265.1C363.8,1268.4 366.3,1271.5 368.8,1271.5C372.5,1271.5 376.2,1262.3 379.9,1262.3C383.5,1262.3 387.2,1271.5 390.9,1271.5C392.3,1271.5 393.7,1271.5 395.1,1271.5C398.8,1271.5 402.5,1261.0 406.2,1259.9C410.9,1258.5 415.6,1258.6 420.3,1257.5C423.8,1256.7 427.2,1253.9 430.7,1253.9C434.7,1253.9 438.7,1255.7 442.7,1257.5C447.6,1259.7 452.5,1271.5 457.5,1271.5C462.1,1271.5 466.7,1271.5 471.4,1271.5" stroke="#000" stroke-width="2.5" stroke-dasharray="9.2 4"/><path d="M148.0,1271.5C152.3,1271.5 156.6,1271.5 160.9,1271.5C163.7,1271.5 166.5,1280.6 169.4,1280.6C173.3,1280.6 177.2,1271.5 181.1,1271.5C189.3,1271.5 197.4,1271.5 205.6,1271.5C207.5,1271.5 209.5,1278.5 211.5,1282.8C213.1,1286.5 214.7,1295.7 216.4,1295.7C219.0,1295.7 221.6,1286.8 224.2,1286.8C226.9,1286.8 229.6,1318.2 232.4,1318.2C234.3,1318.2 236.3,1300.8 238.3,1294.9C239.2,1292.0 240.2,1287.6 241.1,1287.6C243.7,1287.6 246.3,1300.9 248.9,1306.9C252.9,1316.2 256.9,1332.7 260.8,1332.7C263.7,1332.7 266.7,1312.1 269.6,1308.5C272.5,1305.0 275.4,1304.4 278.3,1301.7C282.0,1298.2 285.8,1288.4 289.5,1288.4C292.1,1288.4 294.7,1307.1 297.3,1317.4C299.0,1324.2 300.8,1339.1 302.5,1339.1C304.2,1339.1 305.9,1316.1 307.7,1308.5C309.4,1301.0 311.1,1290.4 312.8,1290.4C315.7,1290.4 318.6,1316.4 321.5,1329.4C324.7,1343.9 328.0,1372.9 331.2,1372.9C333.2,1372.9 335.3,1351.8 337.3,1341.5C338.9,1333.2 340.6,1323.2 342.2,1317.0C344.0,1310.5 345.7,1301.3 347.4,1301.3C350.0,1301.3 352.6,1310.1 355.2,1310.1C357.2,1310.1 359.2,1298.8 361.3,1292.9C363.0,1287.8 364.7,1281.2 366.5,1277.2C367.4,1275.0 368.3,1271.5 369.3,1271.5C373.0,1271.5 376.6,1280.0 380.3,1280.0C384.0,1280.0 387.7,1271.5 391.4,1271.5C392.6,1271.5 393.9,1271.5 395.1,1271.5C398.8,1271.5 402.5,1278.5 406.2,1280.8C410.9,1283.7 415.6,1285.0 420.3,1287.6C423.8,1289.6 427.2,1294.5 430.7,1294.5C434.7,1294.5 438.7,1294.5 442.7,1294.5C445.6,1294.5 448.5,1287.0 451.4,1282.4C453.4,1279.2 455.4,1271.5 457.5,1271.5C462.1,1271.5 466.7,1271.5 471.4,1271.5" stroke="#000" stroke-width="2.5" stroke-dasharray="9.2 4"/></g>
<g clip-path="url(#cp31)" fill="none"><path d="M519.7,1271.5C524.5,1271.5 529.3,1271.5 534.1,1271.5C536.4,1271.5 538.8,1270.9 541.1,1270.9C543.5,1270.9 545.8,1271.5 548.2,1271.5C557.7,1271.5 567.3,1271.5 576.9,1271.5C581.0,1271.5 585.2,1270.0 589.3,1268.3C592.6,1267.0 595.9,1259.5 599.2,1259.5C602.8,1259.5 606.4,1270.3 610.0,1270.3C614.5,1270.3 619.0,1266.2 623.4,1264.7C626.4,1263.8 629.4,1263.4 632.4,1262.3C635.3,1261.2 638.3,1257.5 641.3,1257.5C644.8,1257.5 648.4,1267.5 651.9,1267.5C655.5,1267.5 659.1,1252.3 662.7,1252.3C666.0,1252.3 669.3,1263.1 672.6,1263.1C676.2,1263.1 679.8,1247.0 683.4,1247.0C687.2,1247.0 691.1,1252.6 694.9,1255.9C699.8,1260.0 704.6,1269.9 709.5,1269.9C713.3,1269.9 717.0,1269.1 720.8,1269.1C725.4,1269.1 730.1,1271.5 734.7,1271.5C742.3,1271.5 749.9,1271.5 757.5,1271.5C786.0,1271.5 814.6,1271.5 843.1,1271.5" stroke="#0c0c70" stroke-width="2.4" stroke-linejoin="round"/><path d="M519.7,1271.5C524.5,1271.5 529.3,1271.5 534.1,1271.5C536.4,1271.5 538.8,1272.2 541.1,1272.2C543.5,1272.2 545.8,1271.5 548.2,1271.5C557.7,1271.5 567.3,1271.5 576.9,1271.5C582.2,1271.5 587.5,1272.0 592.9,1272.8C597.1,1273.3 601.3,1280.8 605.6,1280.8C609.1,1280.8 612.6,1272.8 616.1,1272.8C621.5,1272.8 627.0,1276.4 632.4,1276.4C635.3,1276.4 638.3,1275.6 641.3,1275.6C645.5,1275.6 649.6,1278.2 653.8,1278.2C656.7,1278.2 659.7,1274.8 662.7,1274.8C666.9,1274.8 671.2,1290.8 675.4,1290.8C678.7,1290.8 682.0,1277.2 685.3,1277.2C691.6,1277.2 697.8,1299.7 704.1,1299.7C706.2,1299.7 708.3,1289.4 710.5,1287.2C713.9,1283.7 717.3,1282.0 720.8,1280.4C724.2,1278.8 727.7,1278.4 731.1,1276.8C733.5,1275.7 735.9,1272.6 738.2,1272.4C744.6,1271.8 751.1,1271.5 757.5,1271.5C786.0,1271.5 814.6,1271.5 843.1,1271.5" stroke="#0c0c70" stroke-width="2.4" stroke-linejoin="round"/><path d="M519.7,1271.5C524.0,1271.5 528.3,1271.5 532.6,1271.5C535.5,1271.5 538.3,1262.5 541.1,1262.5C545.0,1262.5 548.9,1271.5 552.9,1271.5C560.9,1271.5 568.9,1271.5 576.9,1271.5C579.3,1271.5 581.7,1257.1 584.1,1251.9C586.2,1247.4 588.2,1243.3 590.3,1240.6C591.7,1238.7 593.1,1238.0 594.5,1236.2C595.9,1234.3 597.3,1228.5 598.7,1228.5C600.2,1228.5 601.7,1235.9 603.2,1239.8C605.2,1245.1 607.3,1256.3 609.3,1256.3C611.4,1256.3 613.4,1244.9 615.4,1238.2C617.2,1232.5 618.9,1220.9 620.6,1218.9C623.7,1215.2 626.9,1212.9 630.0,1212.9C633.2,1212.9 636.4,1215.8 639.7,1219.7C641.6,1222.1 643.6,1232.2 645.5,1238.2C647.6,1244.4 649.6,1256.3 651.7,1256.3C653.5,1256.3 655.3,1228.4 657.1,1220.9C659.0,1212.8 661.0,1203.2 662.9,1203.2C665.0,1203.2 667.0,1221.5 669.1,1229.3C670.8,1236.0 672.5,1247.4 674.2,1247.4C677.7,1247.4 681.1,1216.3 684.6,1203.2C687.8,1191.0 691.0,1170.2 694.2,1170.2C696.8,1170.2 699.4,1189.7 702.0,1203.2C704.3,1215.5 706.7,1242.3 709.0,1250.2C710.4,1254.8 711.7,1259.9 713.0,1259.9C716.5,1259.9 719.9,1233.8 723.4,1233.8C726.6,1233.8 729.8,1260.9 733.0,1265.1C735.5,1268.4 738.0,1271.5 740.6,1271.5C744.2,1271.5 747.9,1262.3 751.6,1262.3C755.3,1262.3 759.0,1271.5 762.7,1271.5C764.1,1271.5 765.5,1271.5 766.9,1271.5C770.6,1271.5 774.3,1261.0 778.0,1259.9C782.7,1258.5 787.4,1258.6 792.1,1257.5C795.5,1256.7 799.0,1253.9 802.4,1253.9C806.4,1253.9 810.4,1255.7 814.4,1257.5C819.3,1259.7 824.3,1271.5 829.2,1271.5C833.9,1271.5 838.5,1271.5 843.1,1271.5" stroke="#000" stroke-width="2.5" stroke-dasharray="9.2 4"/><path d="M519.7,1271.5C524.0,1271.5 528.3,1271.5 532.6,1271.5C535.5,1271.5 538.3,1280.6 541.1,1280.6C545.0,1280.6 548.9,1271.5 552.9,1271.5C561.0,1271.5 569.2,1271.5 577.3,1271.5C579.3,1271.5 581.2,1278.5 583.2,1282.8C584.9,1286.5 586.5,1295.7 588.1,1295.7C590.7,1295.7 593.3,1286.8 595.9,1286.8C598.7,1286.8 601.4,1318.2 604.1,1318.2C606.1,1318.2 608.1,1300.8 610.0,1294.9C611.0,1292.0 611.9,1287.6 612.8,1287.6C615.4,1287.6 618.0,1300.9 620.6,1306.9C624.6,1316.2 628.6,1332.7 632.6,1332.7C635.5,1332.7 638.4,1312.1 641.3,1308.5C644.2,1305.0 647.1,1304.4 650.0,1301.7C653.8,1298.2 657.5,1288.4 661.3,1288.4C663.9,1288.4 666.5,1307.1 669.1,1317.4C670.8,1324.2 672.5,1339.1 674.2,1339.1C676.0,1339.1 677.7,1316.1 679.4,1308.5C681.1,1301.0 682.9,1290.4 684.6,1290.4C687.5,1290.4 690.4,1316.4 693.3,1329.4C696.5,1343.9 699.7,1372.9 702.9,1372.9C705.0,1372.9 707.0,1351.8 709.0,1341.5C710.7,1333.2 712.3,1323.2 714.0,1317.0C715.7,1310.5 717.4,1301.3 719.2,1301.3C721.7,1301.3 724.3,1310.1 726.9,1310.1C729.0,1310.1 731.0,1298.8 733.0,1292.9C734.8,1287.8 736.5,1281.2 738.2,1277.2C739.1,1275.0 740.1,1271.5 741.0,1271.5C744.7,1271.5 748.4,1280.0 752.1,1280.0C755.8,1280.0 759.5,1271.5 763.1,1271.5C764.4,1271.5 765.6,1271.5 766.9,1271.5C770.6,1271.5 774.3,1278.5 778.0,1280.8C782.7,1283.7 787.4,1285.0 792.1,1287.6C795.5,1289.6 799.0,1294.5 802.4,1294.5C806.4,1294.5 810.4,1294.5 814.4,1294.5C817.3,1294.5 820.2,1287.0 823.1,1282.4C825.1,1279.2 827.2,1271.5 829.2,1271.5C833.9,1271.5 838.5,1271.5 843.1,1271.5" stroke="#000" stroke-width="2.5" stroke-dasharray="9.2 4"/></g>
<line x1="338.70" y1="3.20" x2="338.70" y2="1453.00" stroke="#4577bb" stroke-width="3.4"/>
<line x1="710.45" y1="3.20" x2="710.45" y2="1453.00" stroke="#4577bb" stroke-width="3.4"/>
<rect x="133.10" y="254.20" width="177.4" height="96.5" rx="4.5" fill="#fff" fill-opacity="0.8" stroke="#cccccc" stroke-width="1.6"/>
<line x1="143.60" y1="278.00" x2="205.80" y2="278.00" stroke="#2a6464" stroke-width="2.5"/>
<line x1="144.70" y1="322.80" x2="204.70" y2="322.80" stroke="#000" stroke-width="2.5" stroke-dasharray="9.2 4"/>
<text class="it" transform="translate(231.30,288.10) scale(1.0,1)" font-size="30">d</text>
<rect x="249.30" y="280.00" width="13.4" height="1.5" fill="#9a9a9a"/>
<text class="it" transform="translate(265.80,288.10) scale(1.18,1)" font-size="30">Pt</text>
<text class="tx" transform="translate(229.00,331.50) scale(1.277,1)" font-size="30">total</text>
<rect x="504.85" y="254.20" width="179.5" height="96.5" rx="4.5" fill="#fff" fill-opacity="0.8" stroke="#cccccc" stroke-width="1.6"/>
<line x1="515.35" y1="278.00" x2="577.55" y2="278.00" stroke="#0c0c70" stroke-width="2.5"/>
<line x1="516.45" y1="322.80" x2="576.45" y2="322.80" stroke="#000" stroke-width="2.5" stroke-dasharray="9.2 4"/>
<text class="it" transform="translate(603.05,288.10) scale(1.0,1)" font-size="30">d</text>
<rect x="621.05" y="280.00" width="13.4" height="1.5" fill="#9a9a9a"/>
<text class="it" transform="translate(637.55,288.10) scale(1.18,1)" font-size="30">Ni</text>
<text class="tx" transform="translate(600.75,331.50) scale(1.277,1)" font-size="30">total</text>
<rect x="133.10" y="616.65" width="177.4" height="96.5" rx="4.5" fill="#fff" fill-opacity="0.8" stroke="#cccccc" stroke-width="1.6"/>
<line x1="143.60" y1="640.45" x2="205.80" y2="640.45" stroke="#2a6464" stroke-width="2.5"/>
<line x1="144.70" y1="685.25" x2="204.70" y2="685.25" stroke="#000" stroke-width="2.5" stroke-dasharray="9.2 4"/>
<text class="it" transform="translate(231.30,650.55) scale(1.0,1)" font-size="30">d</text>
<rect x="249.30" y="642.45" width="13.4" height="1.5" fill="#9a9a9a"/>
<text class="it" transform="translate(265.80,650.55) scale(1.18,1)" font-size="30">Pt</text>
<text class="tx" transform="translate(229.00,693.95) scale(1.277,1)" font-size="30">total</text>
<rect x="504.85" y="616.65" width="179.5" height="96.5" rx="4.5" fill="#fff" fill-opacity="0.8" stroke="#cccccc" stroke-width="1.6"/>
<line x1="515.35" y1="640.45" x2="577.55" y2="640.45" stroke="#0c0c70" stroke-width="2.5"/>
<line x1="516.45" y1="685.25" x2="576.45" y2="685.25" stroke="#000" stroke-width="2.5" stroke-dasharray="9.2 4"/>
<text class="it" transform="translate(603.05,650.55) scale(1.0,1)" font-size="30">d</text>
<rect x="621.05" y="642.45" width="13.4" height="1.5" fill="#9a9a9a"/>
<text class="it" transform="translate(637.55,650.55) scale(1.18,1)" font-size="30">Ni</text>
<text class="tx" transform="translate(600.75,693.95) scale(1.277,1)" font-size="30">total</text>
<rect x="133.10" y="979.10" width="177.4" height="96.5" rx="4.5" fill="#fff" fill-opacity="0.8" stroke="#cccccc" stroke-width="1.6"/>
<line x1="143.60" y1="1002.90" x2="205.80" y2="1002.90" stroke="#2a6464" stroke-width="2.5"/>
<line x1="144.70" y1="1047.70" x2="204.70" y2="1047.70" stroke="#000" stroke-width="2.5" stroke-dasharray="9.2 4"/>
<text class="it" transform="translate(231.30,1013.00) scale(1.0,1)" font-size="30">d</text>
<rect x="249.30" y="1004.90" width="13.4" height="1.5" fill="#9a9a9a"/>
<text class="it" transform="translate(265.80,1013.00) scale(1.18,1)" font-size="30">Pt</text>
<text class="tx" transform="translate(229.00,1056.40) scale(1.277,1)" font-size="30">total</text>
<rect x="504.85" y="979.10" width="179.5" height="96.5" rx="4.5" fill="#fff" fill-opacity="0.8" stroke="#cccccc" stroke-width="1.6"/>
<line x1="515.35" y1="1002.90" x2="577.55" y2="1002.90" stroke="#0c0c70" stroke-width="2.5"/>
<line x1="516.45" y1="1047.70" x2="576.45" y2="1047.70" stroke="#000" stroke-width="2.5" stroke-dasharray="9.2 4"/>
<text class="it" transform="translate(603.05,1013.00) scale(1.0,1)" font-size="30">d</text>
<rect x="621.05" y="1004.90" width="13.4" height="1.5" fill="#9a9a9a"/>
<text class="it" transform="translate(637.55,1013.00) scale(1.18,1)" font-size="30">Ni</text>
<text class="tx" transform="translate(600.75,1056.40) scale(1.277,1)" font-size="30">total</text>
<rect x="133.10" y="1341.55" width="177.4" height="96.5" rx="4.5" fill="#fff" fill-opacity="0.8" stroke="#cccccc" stroke-width="1.6"/>
<line x1="143.60" y1="1365.35" x2="205.80" y2="1365.35" stroke="#2a6464" stroke-width="2.5"/>
<line x1="144.70" y1="1410.15" x2="204.70" y2="1410.15" stroke="#000" stroke-width="2.5" stroke-dasharray="9.2 4"/>
<text class="it" transform="translate(231.30,1375.45) scale(1.0,1)" font-size="30">d</text>
<rect x="249.30" y="1367.35" width="13.4" height="1.5" fill="#9a9a9a"/>
<text class="it" transform="translate(265.80,1375.45) scale(1.18,1)" font-size="30">Pt</text>
<text class="tx" transform="translate(229.00,1418.85) scale(1.277,1)" font-size="30">total</text>
<rect x="504.85" y="1341.55" width="179.5" height="96.5" rx="4.5" fill="#fff" fill-opacity="0.8" stroke="#cccccc" stroke-width="1.6"/>
<line x1="515.35" y1="1365.35" x2="577.55" y2="1365.35" stroke="#0c0c70" stroke-width="2.5"/>
<line x1="516.45" y1="1410.15" x2="576.45" y2="1410.15" stroke="#000" stroke-width="2.5" stroke-dasharray="9.2 4"/>
<text class="it" transform="translate(603.05,1375.45) scale(1.0,1)" font-size="30">d</text>
<rect x="621.05" y="1367.35" width="13.4" height="1.5" fill="#9a9a9a"/>
<text class="it" transform="translate(637.55,1375.45) scale(1.18,1)" font-size="30">Ni</text>
<text class="tx" transform="translate(600.75,1418.85) scale(1.277,1)" font-size="30">total</text>
<text class="ti" transform="translate(149.72,97.90) scale(1.275,1)" font-size="31.5">P</text>
<text class="ti" transform="translate(173.60,97.90) scale(1.211,1)" font-size="31.5">t</text>
<text class="ti" transform="translate(185.29,102.20) scale(1.306,1)" font-size="18.5">13</text>
<text class="ti" transform="translate(521.75,97.90) scale(1.155,1)" font-size="31.5">N</text>
<text class="ti" transform="translate(548.95,97.90) scale(0.867,1)" font-size="31.5">i</text>
<text class="ti" transform="translate(558.09,102.20) scale(1.259,1)" font-size="18.5">13</text>
<text class="ti" transform="translate(149.72,460.35) scale(1.275,1)" font-size="31.5">P</text>
<text class="ti" transform="translate(173.60,460.35) scale(1.211,1)" font-size="31.5">t</text>
<text class="ti" transform="translate(186.60,464.65) scale(1.167,1)" font-size="18.5">4</text>
<text class="ti" transform="translate(198.10,460.35) scale(1.095,1)" font-size="31.5">N</text>
<text class="ti" transform="translate(223.00,460.35) scale(0.822,1)" font-size="31.5">i</text>
<text class="ti" transform="translate(233.70,464.65) scale(1.200,1)" font-size="18.5">9</text>
<text class="ti" transform="translate(521.48,460.35) scale(1.275,1)" font-size="31.5">P</text>
<text class="ti" transform="translate(545.35,460.35) scale(1.211,1)" font-size="31.5">t</text>
<text class="ti" transform="translate(558.35,464.65) scale(1.167,1)" font-size="18.5">4</text>
<text class="ti" transform="translate(569.85,460.35) scale(1.095,1)" font-size="31.5">N</text>
<text class="ti" transform="translate(594.75,460.35) scale(0.822,1)" font-size="31.5">i</text>
<text class="ti" transform="translate(605.45,464.65) scale(1.200,1)" font-size="18.5">9</text>
<text class="ti" transform="translate(149.72,822.80) scale(1.275,1)" font-size="31.5">P</text>
<text class="ti" transform="translate(173.60,822.80) scale(1.211,1)" font-size="31.5">t</text>
<text class="ti" transform="translate(186.60,827.10) scale(1.167,1)" font-size="18.5">7</text>
<text class="ti" transform="translate(198.10,822.80) scale(1.095,1)" font-size="31.5">N</text>
<text class="ti" transform="translate(223.00,822.80) scale(0.822,1)" font-size="31.5">i</text>
<text class="ti" transform="translate(233.70,827.10) scale(1.200,1)" font-size="18.5">6</text>
<text class="ti" transform="translate(521.48,822.80) scale(1.275,1)" font-size="31.5">P</text>
<text class="ti" transform="translate(545.35,822.80) scale(1.211,1)" font-size="31.5">t</text>
<text class="ti" transform="translate(558.35,827.10) scale(1.167,1)" font-size="18.5">7</text>
<text class="ti" transform="translate(569.85,822.80) scale(1.095,1)" font-size="31.5">N</text>
<text class="ti" transform="translate(594.75,822.80) scale(0.822,1)" font-size="31.5">i</text>
<text class="ti" transform="translate(605.45,827.10) scale(1.200,1)" font-size="18.5">6</text>
<text class="ti" transform="translate(149.72,1185.25) scale(1.275,1)" font-size="31.5">P</text>
<text class="ti" transform="translate(173.60,1185.25) scale(1.211,1)" font-size="31.5">t</text>
<text class="ti" transform="translate(185.29,1189.55) scale(1.306,1)" font-size="18.5">10</text>
<text class="ti" transform="translate(209.80,1185.25) scale(1.095,1)" font-size="31.5">N</text>
<text class="ti" transform="translate(234.70,1185.25) scale(0.822,1)" font-size="31.5">i</text>
<text class="ti" transform="translate(245.40,1189.55) scale(1.200,1)" font-size="18.5">3</text>
<text class="ti" transform="translate(521.48,1185.25) scale(1.275,1)" font-size="31.5">P</text>
<text class="ti" transform="translate(545.35,1185.25) scale(1.211,1)" font-size="31.5">t</text>
<text class="ti" transform="translate(557.04,1189.55) scale(1.306,1)" font-size="18.5">10</text>
<text class="ti" transform="translate(581.55,1185.25) scale(1.095,1)" font-size="31.5">N</text>
<text class="ti" transform="translate(606.45,1185.25) scale(0.822,1)" font-size="31.5">i</text>
<text class="ti" transform="translate(617.15,1189.55) scale(1.200,1)" font-size="18.5">3</text>
<rect x="117.80" y="3.20" width="371.75" height="362.45" fill="none" stroke="#000" stroke-width="1.6"/>
<path d="M111.80,304.80H117.80M111.80,264.60H117.80M111.80,224.40H117.80M111.80,184.20H117.80M111.80,144.00H117.80M111.80,103.80H117.80M111.80,63.60H117.80M150.54,365.65V371.65M197.58,365.65V371.65M244.62,365.65V371.65M291.66,365.65V371.65M338.70,365.65V371.65M385.74,365.65V371.65M432.78,365.65V371.65M479.82,365.65V371.65" stroke="#000" stroke-width="1.5" fill="none"/>
<rect x="489.55" y="3.20" width="371.75" height="362.45" fill="none" stroke="#000" stroke-width="1.6"/>
<path d="M483.55,304.80H489.55M483.55,264.60H489.55M483.55,224.40H489.55M483.55,184.20H489.55M483.55,144.00H489.55M483.55,103.80H489.55M483.55,63.60H489.55M522.29,365.65V371.65M569.33,365.65V371.65M616.37,365.65V371.65M663.41,365.65V371.65M710.45,365.65V371.65M757.49,365.65V371.65M804.53,365.65V371.65M851.57,365.65V371.65" stroke="#000" stroke-width="1.5" fill="none"/>
<rect x="117.80" y="365.65" width="371.75" height="362.45" fill="none" stroke="#000" stroke-width="1.6"/>
<path d="M111.80,667.25H117.80M111.80,627.05H117.80M111.80,586.85H117.80M111.80,546.65H117.80M111.80,506.45H117.80M111.80,466.25H117.80M111.80,426.05H117.80M150.54,728.10V734.10M197.58,728.10V734.10M244.62,728.10V734.10M291.66,728.10V734.10M338.70,728.10V734.10M385.74,728.10V734.10M432.78,728.10V734.10M479.82,728.10V734.10" stroke="#000" stroke-width="1.5" fill="none"/>
<rect x="489.55" y="365.65" width="371.75" height="362.45" fill="none" stroke="#000" stroke-width="1.6"/>
<path d="M483.55,667.25H489.55M483.55,627.05H489.55M483.55,586.85H489.55M483.55,546.65H489.55M483.55,506.45H489.55M483.55,466.25H489.55M483.55,426.05H489.55M522.29,728.10V734.10M569.33,728.10V734.10M616.37,728.10V734.10M663.41,728.10V734.10M710.45,728.10V734.10M757.49,728.10V734.10M804.53,728.10V734.10M851.57,728.10V734.10" stroke="#000" stroke-width="1.5" fill="none"/>
<rect x="117.80" y="728.10" width="371.75" height="362.45" fill="none" stroke="#000" stroke-width="1.6"/>
<path d="M111.80,1029.70H117.80M111.80,989.50H117.80M111.80,949.30H117.80M111.80,909.10H117.80M111.80,868.90H117.80M111.80,828.70H117.80M111.80,788.50H117.80M150.54,1090.55V1096.55M197.58,1090.55V1096.55M244.62,1090.55V1096.55M291.66,1090.55V1096.55M338.70,1090.55V1096.55M385.74,1090.55V1096.55M432.78,1090.55V1096.55M479.82,1090.55V1096.55" stroke="#000" stroke-width="1.5" fill="none"/>
<rect x="489.55" y="728.10" width="371.75" height="362.45" fill="none" stroke="#000" stroke-width="1.6"/>
<path d="M483.55,1029.70H489.55M483.55,989.50H489.55M483.55,949.30H489.55M483.55,909.10H489.55M483.55,868.90H489.55M483.55,828.70H489.55M483.55,788.50H489.55M522.29,1090.55V1096.55M569.33,1090.55V1096.55M616.37,1090.55V1096.55M663.41,1090.55V1096.55M710.45,1090.55V1096.55M757.49,1090.55V1096.55M804.53,1090.55V1096.55M851.57,1090.55V1096.55" stroke="#000" stroke-width="1.5" fill="none"/>
<rect x="117.80" y="1090.55" width="371.75" height="362.45" fill="none" stroke="#000" stroke-width="1.6"/>
<path d="M111.80,1392.15H117.80M111.80,1351.95H117.80M111.80,1311.75H117.80M111.80,1271.55H117.80M111.80,1231.35H117.80M111.80,1191.15H117.80M111.80,1150.95H117.80M150.54,1453.00V1459.00M197.58,1453.00V1459.00M244.62,1453.00V1459.00M291.66,1453.00V1459.00M338.70,1453.00V1459.00M385.74,1453.00V1459.00M432.78,1453.00V1459.00M479.82,1453.00V1459.00" stroke="#000" stroke-width="1.5" fill="none"/>
<rect x="489.55" y="1090.55" width="371.75" height="362.45" fill="none" stroke="#000" stroke-width="1.6"/>
<path d="M483.55,1392.15H489.55M483.55,1351.95H489.55M483.55,1311.75H489.55M483.55,1271.55H489.55M483.55,1231.35H489.55M483.55,1191.15H489.55M483.55,1150.95H489.55M522.29,1453.00V1459.00M569.33,1453.00V1459.00M616.37,1453.00V1459.00M663.41,1453.00V1459.00M710.45,1453.00V1459.00M757.49,1453.00V1459.00M804.53,1453.00V1459.00M851.57,1453.00V1459.00" stroke="#000" stroke-width="1.5" fill="none"/>
<text class="tk" transform="translate(106.60,316.80) scale(1.17,1)" text-anchor="end" font-size="31.5">30</text>
<rect x="42.04" y="306.70" width="23.1" height="2.6" fill="#000"/>
<text class="tk" transform="translate(106.60,276.60) scale(1.17,1)" text-anchor="end" font-size="31.5">20</text>
<rect x="42.04" y="266.50" width="23.1" height="2.6" fill="#000"/>
<text class="tk" transform="translate(106.60,236.40) scale(1.17,1)" text-anchor="end" font-size="31.5">10</text>
<rect x="42.04" y="226.30" width="23.1" height="2.6" fill="#000"/>
<text class="tk" transform="translate(106.60,196.20) scale(1.17,1)" text-anchor="end" font-size="31.5">0</text>
<text class="tk" transform="translate(106.60,156.00) scale(1.17,1)" text-anchor="end" font-size="31.5">10</text>
<text class="tk" transform="translate(106.60,115.80) scale(1.17,1)" text-anchor="end" font-size="31.5">20</text>
<text class="tk" transform="translate(106.60,75.60) scale(1.17,1)" text-anchor="end" font-size="31.5">30</text>
<text class="tk" transform="translate(106.60,679.25) scale(1.17,1)" text-anchor="end" font-size="31.5">30</text>
<rect x="42.04" y="669.15" width="23.1" height="2.6" fill="#000"/>
<text class="tk" transform="translate(106.60,639.05) scale(1.17,1)" text-anchor="end" font-size="31.5">20</text>
<rect x="42.04" y="628.95" width="23.1" height="2.6" fill="#000"/>
<text class="tk" transform="translate(106.60,598.85) scale(1.17,1)" text-anchor="end" font-size="31.5">10</text>
<rect x="42.04" y="588.75" width="23.1" height="2.6" fill="#000"/>
<text class="tk" transform="translate(106.60,558.65) scale(1.17,1)" text-anchor="end" font-size="31.5">0</text>
<text class="tk" transform="translate(106.60,518.45) scale(1.17,1)" text-anchor="end" font-size="31.5">10</text>
<text class="tk" transform="translate(106.60,478.25) scale(1.17,1)" text-anchor="end" font-size="31.5">20</text>
<text class="tk" transform="translate(106.60,438.05) scale(1.17,1)" text-anchor="end" font-size="31.5">30</text>
<text class="tk" transform="translate(106.60,1041.70) scale(1.17,1)" text-anchor="end" font-size="31.5">30</text>
<rect x="42.04" y="1031.60" width="23.1" height="2.6" fill="#000"/>
<text class="tk" transform="translate(106.60,1001.50) scale(1.17,1)" text-anchor="end" font-size="31.5">20</text>
<rect x="42.04" y="991.40" width="23.1" height="2.6" fill="#000"/>
<text class="tk" transform="translate(106.60,961.30) scale(1.17,1)" text-anchor="end" font-size="31.5">10</text>
<rect x="42.04" y="951.20" width="23.1" height="2.6" fill="#000"/>
<text class="tk" transform="translate(106.60,921.10) scale(1.17,1)" text-anchor="end" font-size="31.5">0</text>
<text class="tk" transform="translate(106.60,880.90) scale(1.17,1)" text-anchor="end" font-size="31.5">10</text>
<text class="tk" transform="translate(106.60,840.70) scale(1.17,1)" text-anchor="end" font-size="31.5">20</text>
<text class="tk" transform="translate(106.60,800.50) scale(1.17,1)" text-anchor="end" font-size="31.5">30</text>
<text class="tk" transform="translate(106.60,1404.15) scale(1.17,1)" text-anchor="end" font-size="31.5">30</text>
<rect x="42.04" y="1394.05" width="23.1" height="2.6" fill="#000"/>
<text class="tk" transform="translate(106.60,1363.95) scale(1.17,1)" text-anchor="end" font-size="31.5">20</text>
<rect x="42.04" y="1353.85" width="23.1" height="2.6" fill="#000"/>
<text class="tk" transform="translate(106.60,1323.75) scale(1.17,1)" text-anchor="end" font-size="31.5">10</text>
<rect x="42.04" y="1313.65" width="23.1" height="2.6" fill="#000"/>
<text class="tk" transform="translate(106.60,1283.55) scale(1.17,1)" text-anchor="end" font-size="31.5">0</text>
<text class="tk" transform="translate(106.60,1243.35) scale(1.17,1)" text-anchor="end" font-size="31.5">10</text>
<text class="tk" transform="translate(106.60,1203.15) scale(1.17,1)" text-anchor="end" font-size="31.5">20</text>
<text class="tk" transform="translate(106.60,1162.95) scale(1.17,1)" text-anchor="end" font-size="31.5">30</text>
<rect x="128.53" y="1477.90" width="23.1" height="2.6" fill="#000"/>
<text class="tk" transform="translate(155.33,1487.4) scale(1.17,1)" font-size="31.5">8</text>
<rect x="175.57" y="1477.90" width="23.1" height="2.6" fill="#000"/>
<text class="tk" transform="translate(202.37,1487.4) scale(1.17,1)" font-size="31.5">6</text>
<rect x="222.61" y="1477.90" width="23.1" height="2.6" fill="#000"/>
<text class="tk" transform="translate(249.41,1487.4) scale(1.17,1)" font-size="31.5">4</text>
<rect x="269.65" y="1477.90" width="23.1" height="2.6" fill="#000"/>
<text class="tk" transform="translate(296.45,1487.4) scale(1.17,1)" font-size="31.5">2</text>
<text class="tk" transform="translate(339.00,1487.4) scale(1.17,1)" text-anchor="middle" font-size="31.5">0</text>
<text class="tk" transform="translate(386.04,1487.4) scale(1.17,1)" text-anchor="middle" font-size="31.5">2</text>
<text class="tk" transform="translate(433.08,1487.4) scale(1.17,1)" text-anchor="middle" font-size="31.5">4</text>
<text class="tk" transform="translate(480.12,1487.4) scale(1.17,1)" text-anchor="middle" font-size="31.5">6</text>
<rect x="500.28" y="1477.90" width="23.1" height="2.6" fill="#000"/>
<text class="tk" transform="translate(527.08,1487.4) scale(1.17,1)" font-size="31.5">8</text>
<rect x="547.32" y="1477.90" width="23.1" height="2.6" fill="#000"/>
<text class="tk" transform="translate(574.12,1487.4) scale(1.17,1)" font-size="31.5">6</text>
<rect x="594.36" y="1477.90" width="23.1" height="2.6" fill="#000"/>
<text class="tk" transform="translate(621.16,1487.4) scale(1.17,1)" font-size="31.5">4</text>
<rect x="641.40" y="1477.90" width="23.1" height="2.6" fill="#000"/>
<text class="tk" transform="translate(668.20,1487.4) scale(1.17,1)" font-size="31.5">2</text>
<text class="tk" transform="translate(710.75,1487.4) scale(1.17,1)" text-anchor="middle" font-size="31.5">0</text>
<text class="tk" transform="translate(757.79,1487.4) scale(1.17,1)" text-anchor="middle" font-size="31.5">2</text>
<text class="tk" transform="translate(804.83,1487.4) scale(1.17,1)" text-anchor="middle" font-size="31.5">4</text>
<text class="tk" transform="translate(851.87,1487.4) scale(1.17,1)" text-anchor="middle" font-size="31.5">6</text>
<text class="yl" transform="translate(26.8,1015.1) rotate(-90)" font-size="32.5" textLength="135.2" lengthAdjust="spacingAndGlyphs">Density</text>
<text class="yl" transform="translate(26.8,869.2) rotate(-90)" font-size="32.5" textLength="21.5" lengthAdjust="spacingAndGlyphs">of</text>
<text class="yl" transform="translate(26.8,836.9) rotate(-90)" font-size="32.5" textLength="97.2" lengthAdjust="spacingAndGlyphs">States</text>
<text class="yl" transform="translate(26.8,723.8) rotate(-90)" font-size="32.5" textLength="145.0" lengthAdjust="spacingAndGlyphs">(arbitrary</text>
<text class="yl" transform="translate(26.8,566.6) rotate(-90)" font-size="32.5" textLength="82.2" lengthAdjust="spacingAndGlyphs">units)</text>
<text class="ti" transform="translate(362.59,1517.40) scale(1.312,1.029)" font-size="32">E</text>
<text class="ti" transform="translate(416.69,1517.40) scale(1.306,1.029)" font-size="32">E</text>
<text class="ti" font-style="italic" transform="translate(442.70,1521.90) scale(1.489,1.020)" font-size="22">f</text>
<text class="ti" transform="translate(471.96,1518.06) scale(1.044,1.148)" font-size="32">(</text>
<text class="ti" transform="translate(483.85,1517.80) scale(1.154,1.007)" font-size="32">e</text>
<text class="ti" transform="translate(502.70,1518.30) scale(1.130,1.114)" font-size="32">V</text>
<text class="ti" transform="translate(530.27,1518.06) scale(1.033,1.148)" font-size="32">)</text>
<rect x="390.6" y="1508.0" width="22.9" height="2.5" fill="#000"/>
</svg></body></html>
